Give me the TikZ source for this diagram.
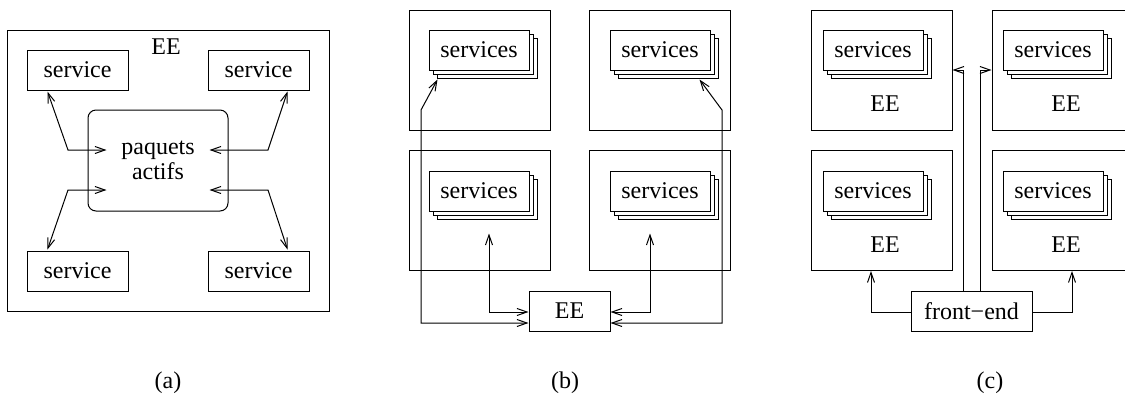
\documentclass[tikz,border=0pt]{standalone}
\usepackage{fontspec}
\setmainfont{Liberation Serif}
\usetikzlibrary{arrows.meta}

\begin{document}
\begin{tikzpicture}[
    x=0.5pt, y=-0.5pt,
    line width=0.5pt,
    every node/.style={font=\fontsize{12}{12.5}\selectfont, inner sep=0pt},
    >={Straight Barb[length=5pt, width=3.5pt]},
    svcbox/.style={draw, minimum width=50.5pt, minimum height=20pt},
    stackbox/.style={draw, fill=white, minimum width=50pt, minimum height=20pt},
    eebox/.style={draw, minimum width=70.5pt, minimum height=60pt},
  ]
  \useasboundingbox (0,0) rectangle (1125,398);

  % (a) one EE with its services
  \node[draw, minimum width=161pt, minimum height=140.5pt] (aee) at (168,170.5) {};
  \node (aeetxt) at (166,47) {EE};
  \node[svcbox] (s1) at (77.5,70) {service};
  \node[svcbox] (s2) at (258.5,70) {service};
  \node[svcbox] (s3) at (77.5,271) {service};
  \node[svcbox] (s4) at (258.5,271) {service};
  \node[draw, rounded corners=4pt, minimum width=70pt, minimum height=50.5pt,
    align=center] (pa) at (158,160.5) {paquets\\actifs};

  \draw[<->] ([shift={(21,1)}]s1.south west) -- (68,150) -- ([shift={(19,-10.5)}]pa.west);
  \draw[<->] ([shift={(-22,1)}]s2.south east) -- (268,150) -- ([shift={(-19,-10.5)}]pa.east);
  \draw[<->] ([shift={(19,29.5)}]pa.west) -- (68,190) -- ([shift={(21,-1)}]s3.north west);
  \draw[<->] ([shift={(-19,29.5)}]pa.east) -- (268,190) -- ([shift={(-22,-1)}]s4.north east);

  % (b) several EEs driven by one EE
  \node[eebox] (btl) at (479.5,70) {};
  \node[eebox] (btr) at (660,70) {};
  \node[eebox] (bbl) at (479.5,210.5) {};
  \node[eebox] (bbr) at (660,210.5) {};

  % (c) EEs behind a front-end
  \node[eebox] (ctl) at (881.5,70) {};
  \node[eebox] (ctr) at (1062.5,70) {};
  \node[eebox] (cbl) at (881.5,210.5) {};
  \node[eebox] (cbr) at (1062.5,210.5) {};

  % stacked services
  \foreach \nm/\px/\py in {bs1/479/50, bs2/660/50, bs3/479/191, bs4/660/191,
                           cs1/873/50, cs2/1053/50, cs3/873/191, cs4/1053/191} {
    \node[stackbox] at (\px+8,\py+8) {};
    \node[stackbox] at (\px+4,\py+4) {};
    \node[stackbox] (\nm) at (\px,\py) {services};
  }

  \node[draw, minimum width=40.5pt, minimum height=20pt] (ee) at (569.5,311) {EE};
  \draw[<->] ([shift={(0,12)}]ee.west) -| (421,110) -- ([shift={(9,9)}]bs1.south west);
  \draw[<->] ([shift={(0,1)}]ee.west) -| ([shift={(10,22)}]bs3.south);
  \draw[<->] ([shift={(0,1)}]ee.east) -| ([shift={(-10,22)}]bs4.south);
  \draw[<->] ([shift={(0,12)}]ee.east) -| (722,110) -- ([shift={(-11,9)}]bs2.south east);

  \node (ctltxt) at (885,104) {EE};
  \node (ctrtxt) at (1066,104) {EE};
  \node (cbltxt) at (885,245) {EE};
  \node (cbrtxt) at (1066,245) {EE};
  \node[draw, minimum width=60.5pt, minimum height=20pt] (fe) at (971.5,311) {front−end};
  \draw[->] ([shift={(0,1)}]fe.west) -| ([shift={(-10.5,0)}]cbl.south);
  \draw[->] ([shift={(0,1)}]fe.east) -| ([shift={(9.5,0)}]cbr.south);
  \draw[->] ([shift={(-8.5,0)}]fe.north) |- (ctl.east);
  \draw[->] ([shift={(8.5,0)}]fe.north) |- (ctr.west);

  % captions
  \node (capa) at (168,383) {(a)};
  \node (capb) at (565,383) {(b)};
  \node (capc) at (990,383) {(c)};
\end{tikzpicture}
\end{document}
